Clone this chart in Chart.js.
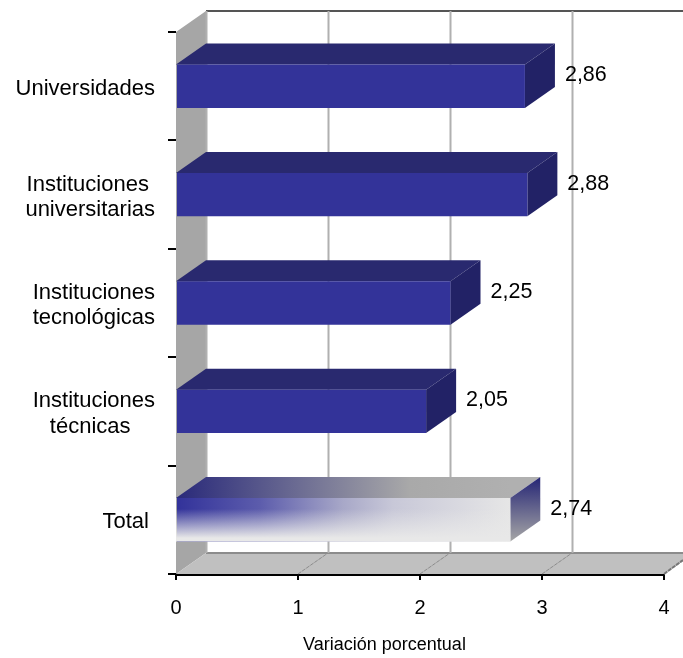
<!DOCTYPE html>
<html>
<head>
<meta charset="utf-8">
<style>
    html, body { margin: 0; padding: 0; background: #fff; }
    canvas { display: block; }
</style>
<script src="https://cdn.jsdelivr.net/npm/chart.js@4"></script>
</head>
<body>
<canvas id="chart" width="683" height="658"></canvas>
<script>
const nb = "\u00a0";
const categories = [
    "Universidades",
    ["Instituciones" + nb, "universitarias"],
    ["Instituciones", "tecnológicas"],
    ["Instituciones", "técnicas" + nb.repeat(4)],
    "Total" + nb,
];
const variation = [2.86, 2.88, 2.25, 2.05, 2.74];
const xTicks = [0, 1, 2, 3, 4];
const axisTitle = "Variación porcentual";

const depthX = 30;
const depthY = 21;
const fontFamily = '"Liberation Sans", Arial, sans-serif';
const barFront = "#333399";
const barTop = "#29296f";
const barSide = "#222266";
const totalIndex = 4;

function polygon(ctx, points, fill) {
    ctx.beginPath();
    points.forEach((p, i) => (i ? ctx.lineTo(p[0], p[1]) : ctx.moveTo(p[0], p[1])));
    ctx.closePath();
    ctx.fillStyle = fill;
    ctx.fill();
}

function totalFront(context) {
    const { scales, ctx } = context.chart;
    if (context.dataIndex !== totalIndex) return barFront;
    const x0 = scales.x.getPixelForValue(0);
    const x1 = scales.x.getPixelForValue(variation[totalIndex]);
    const g = ctx.createLinearGradient(x0, 0, x1, 0);
    g.addColorStop(0, "#32329a");
    g.addColorStop(0.25, "#5c5cac");
    g.addColorStop(0.5, "#a8a8c8");
    g.addColorStop(0.65, "#c8c8d8");
    g.addColorStop(1, "#e6e6e6");
    return g;
}

const box3d = {
    id: "box3d",
    beforeDatasetsDraw(chart) {
        const { ctx, chartArea, scales } = chart;
        const { left, right, top, bottom } = chartArea;
        const canvasRight = chart.width;
        ctx.save();

        // back wall side and floor
        polygon(ctx, [[left, top], [left + depthX, top - depthY], [left + depthX, bottom - depthY], [left, bottom]], "#a6a6a6");
        polygon(ctx, [[left, bottom], [left + depthX, bottom - depthY], [right + depthX, bottom - depthY], [right, bottom]], "#c0c0c0");

        // top edge and floor edge
        ctx.strokeStyle = "#555555";
        ctx.lineWidth = 2;
        ctx.beginPath();
        ctx.moveTo(left + depthX, top - depthY);
        ctx.lineTo(canvasRight, top - depthY);
        ctx.stroke();
        ctx.strokeStyle = "#8c8c8c";
        ctx.beginPath();
        ctx.moveTo(left + depthX, bottom - depthY);
        ctx.lineTo(canvasRight, bottom - depthY);
        ctx.stroke();

        // gridlines on the back wall, and their run across the floor
        xTicks.forEach((t) => {
            const px = scales.x.getPixelForValue(t);
            if (t < 4) {
                ctx.strokeStyle = "#b0b0b0";
                ctx.lineWidth = 2;
                ctx.beginPath();
                ctx.moveTo(px + depthX + 0.5, top - depthY);
                ctx.lineTo(px + depthX + 0.5, bottom - depthY);
                ctx.stroke();
            }
            if (t > 0) {
                ctx.strokeStyle = "#8c8c8c";
                ctx.lineWidth = 1;
                ctx.setLineDash([4, 1]);
                ctx.beginPath();
                ctx.moveTo(px, bottom);
                ctx.lineTo(px + depthX, bottom - depthY);
                ctx.stroke();
                ctx.setLineDash([]);
            }
        });

        // top and side faces of the bars
        const meta = chart.getDatasetMeta(0);
        meta.data.forEach((bar, i) => {
            const x0 = scales.x.getPixelForValue(0);
            const yTop = bar.y - bar.height / 2;
            const yBot = bar.y + bar.height / 2;
            let topFill = barTop;
            let sideFill = barSide;
            if (i === totalIndex) {
                topFill = ctx.createLinearGradient(x0, 0, bar.x, 0);
                topFill.addColorStop(0, "#29297a");
                topFill.addColorStop(0.7, "#a9a9a9");
                topFill.addColorStop(1, "#b0b0b0");
                sideFill = ctx.createLinearGradient(0, yTop - depthY, 0, yBot);
                sideFill.addColorStop(0, "#252575");
                sideFill.addColorStop(1, "#a6a6a6");
            }
            polygon(ctx, [[x0, yTop], [x0 + depthX, yTop - depthY], [bar.x + depthX, yTop - depthY], [bar.x, yTop]], topFill);
            polygon(ctx, [[bar.x, yTop], [bar.x + depthX, yTop - depthY], [bar.x + depthX, yBot - depthY], [bar.x, yBot]], sideFill);
        });
        ctx.restore();
    },
    afterDatasetsDraw(chart) {
        // Total bar fades to pale grey towards its bottom edge
        const { ctx, scales } = chart;
        const bar = chart.getDatasetMeta(0).data[totalIndex];
        const x0 = scales.x.getPixelForValue(0);
        const yTop = bar.y - bar.height / 2;
        const fade = ctx.createLinearGradient(0, yTop, 0, yTop + bar.height);
        fade.addColorStop(0.25, "rgba(232, 232, 232, 0)");
        fade.addColorStop(0.92, "rgba(232, 232, 232, 1)");
        fade.addColorStop(1, "rgba(232, 232, 232, 1)");
        ctx.save();
        ctx.fillStyle = fade;
        ctx.fillRect(x0, yTop, bar.x - x0, bar.height);
        ctx.restore();
    },
    afterDraw(chart) {
        const { ctx, chartArea } = chart;
        ctx.save();
        ctx.fillStyle = "#000";
        ctx.font = "21.5px " + fontFamily;
        ctx.textBaseline = "middle";
        ctx.textAlign = "left";

        // value labels
        const meta = chart.getDatasetMeta(0);
        meta.data.forEach((bar, i) => {
            const txt = variation[i].toFixed(2).replace(".", ",");
            ctx.fillText(txt, bar.x + 40, bar.y - 11);
        });

        // axis title sits off centre in the original
        ctx.font = "18px " + fontFamily;
        ctx.textAlign = "center";
        ctx.fillText(axisTitle, 384.5, 645);

        // stub of the floor's right edge
        ctx.strokeStyle = "#777777";
        ctx.lineWidth = 2;
        ctx.setLineDash([4, 1]);
        ctx.beginPath();
        ctx.moveTo(chartArea.right, chartArea.bottom);
        ctx.lineTo(chart.width, chartArea.bottom - 14);
        ctx.stroke();
        ctx.restore();
    },
};

new Chart(document.getElementById("chart"), {
    type: "bar",
    data: {
        labels: categories,
        datasets: [{
            data: variation,
            backgroundColor: totalFront,
            borderWidth: 0,
            barPercentage: 0.4,
            categoryPercentage: 1,
        }],
    },
    options: {
        indexAxis: "y",
        responsive: false,
        animation: false,
        layout: { padding: { top: 32, right: 19, bottom: 0, left: 0 } },
        plugins: { legend: { display: false }, tooltip: { enabled: false } },
        scales: {
            x: {
                type: "linear",
                min: xTicks[0],
                max: xTicks[xTicks.length - 1],
                z: 1,
                afterFit: (scale) => {
                    scale.height = 84;
                    scale.paddingLeft = 0;
                    scale.paddingRight = 0;
                },
                afterBuildTicks: (scale) => { scale.ticks = xTicks.map((value) => ({ value })); },
                grid: { drawOnChartArea: false, color: "#000", tickLength: 6, lineWidth: 2 },
                border: { color: "#000", width: 3 },
                ticks: {
                    color: "#000",
                    padding: 16,
                    maxRotation: 0,
                    font: { family: fontFamily, size: 20 },
                },
            },
            y: {
                z: 1,
                afterFit: (scale) => { scale.width = 176; },
                grid: { drawOnChartArea: false, color: "#000", tickLength: 8, lineWidth: 2 },
                border: { display: false },
                ticks: {
                    color: "#000",
                    padding: 13,
                    labelOffset: 2.5,
                    autoSkip: false,
                    font: { family: fontFamily, size: 22, lineHeight: 1.14 },
                },
            },
        },
    },
    plugins: [box3d],
});
</script>
</body>
</html>
